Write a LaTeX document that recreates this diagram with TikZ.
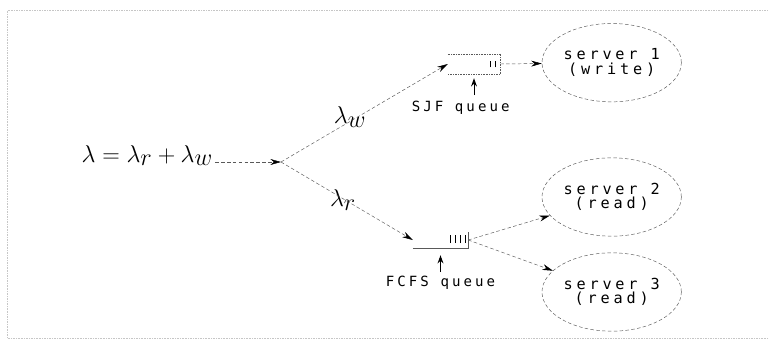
\documentclass[tikz,border=0pt]{standalone}
\usepackage{fontspec}
\newfontfamily\srvfont[LetterSpace=25]{DejaVu Sans Mono}
\newfontfamily\qfont[LetterSpace=22]{DejaVu Sans Mono}
\usepackage{tikz}
\usetikzlibrary{shapes.geometric,arrows.meta,positioning,calc}
\tikzset{
  server/.style={
    ellipse, draw=gray!70!black, densely dashed, thin,
    minimum width=4.0cm, minimum height=2.35cm, inner sep=1pt,
    align=center, font=\srvfont\fontsize{13}{12.5}\selectfont
  },
  queue/.style 2 args={
    rectangle, minimum width=#1, minimum height=#2, inner sep=0pt
  },
  qlbl/.style={font=\qfont\fontsize{12}{13}\selectfont},
  lbl/.style={font=\huge, inner sep=0pt},
  link/.style={-{Stealth[length=9pt,width=5pt,black]}, thin, gray!70!black, densely dashed},
  uparr/.style={-{Stealth[length=7pt,width=5pt]}, thick},
  wall/.style={thin, gray!70!black},
  job/.style={line width=1.2pt},
  frame/.style={gray!45, densely dotted, thin}
}

\begin{document}
\begin{tikzpicture}
\useasboundingbox (0,0) rectangle (23.07,10.38);
\draw[frame] (23.07,10.08) -| (0.21,0.24) -- (23.07,0.24);

% Arrivals
\node[lbl, anchor=base east] (lam) at (6.39,5.52)
  {$\lambda = \lambda_{\textstyle r} + \lambda_{\textstyle w}$};
\coordinate (split) at (8.43,5.52);

% Queues
\node[queue={1.56cm}{0.6cm}] (sjf) at (14.22,8.46) {};
\node[qlbl, below=0.68cm of sjf, xshift=-0.4cm] (sjflbl) {SJF queue};

\node[queue={1.65cm}{0.48cm}] (fcfs) at (13.215,3.18) {};
\node[qlbl, below=0.72cm of fcfs] (fcfslbl) {FCFS queue};

\draw[wall, densely dotted] (sjf.north west) -- (sjf.north east) -- (sjf.south east) -- (sjf.south west);
\draw[wall] (fcfs.south west) -- (fcfs.south east) -- (fcfs.north east);

\foreach \d in {0.15,0.3}
  \draw[job] ([xshift=-\d cm, yshift=-0.1cm]sjf.east) -- ++(0,0.2);
\foreach \d in {0.09,0.24,0.39,0.54}
  \draw[job] ([xshift=-\d cm, yshift=-0.09cm]fcfs.east) -- ++(0,0.24);

% Servers
\node[server] (srv1) at (18.35,8.5) {server 1\\(write)};
\node[server] (srv2) at (18.35,4.47) {server 2\\(read)};
\node[server] (srv3) at (18.35,1.62) {server 3\\(read)};

% Labels on the split
\node[lbl] (lamw) at (10.5,6.87) {$\lambda_{\textstyle w}$};
\node[lbl] (lamr) at (10.29,4.38) {$\lambda_{\textstyle r}$};

% Arrows
\draw[link] ([xshift=2pt]lam.base east) -- (split);
\draw[link] (split) -- (sjf.west);
\draw[link] (split) -- (fcfs.west);
\draw[link] (sjf.east) -- (srv1);
\draw[link] (fcfs.east) -- (srv2);
\draw[link] (fcfs.east) -- (srv3);

\draw[uparr] ([yshift=-0.63cm]sjf.south) -- ([yshift=-0.12cm]sjf.south);
\draw[uparr] ([yshift=-0.72cm]fcfs.south) -- ([yshift=-0.21cm]fcfs.south);

\end{tikzpicture}
\end{document}
